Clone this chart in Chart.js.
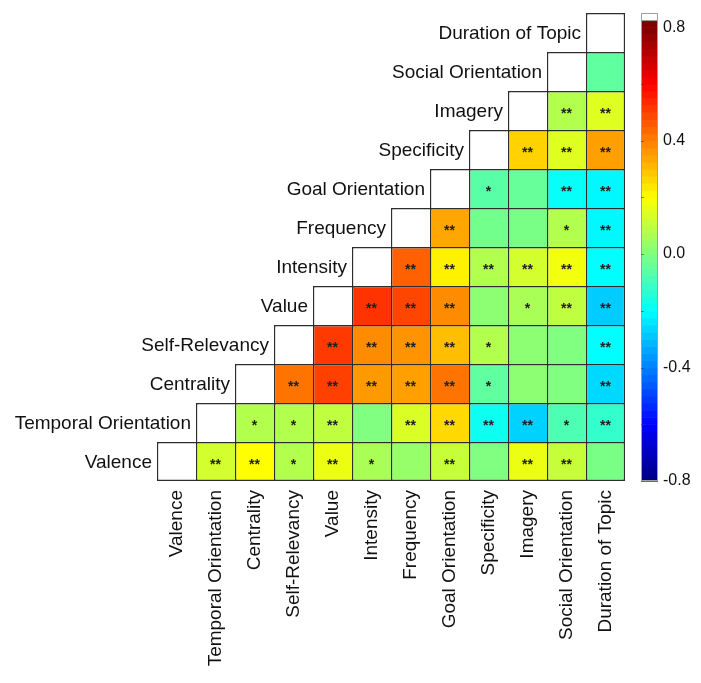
<!DOCTYPE html>
<html><head><meta charset="utf-8">
<script src="https://cdn.jsdelivr.net/npm/chart.js@4/dist/chart.umd.min.js"></script>
<style>html,body{margin:0;padding:0;background:#fff}canvas{display:block}</style>
</head><body>
<canvas id="c" width="701" height="683"></canvas>
<script>
// Variables (bottom row / left column first)
const variables = ['Valence','Temporal Orientation','Centrality','Self-Relevancy','Value','Intensity','Frequency','Goal Orientation','Specificity','Imagery','Social Orientation','Duration of Topic'];

// Correlations of each row variable with the variables to its right (columns row+1 .. 11)
const corrValence        = [0.13, 0.20, 0.08, 0.17, 0.065, 0.035, 0.11, 0.00, 0.17, 0.11, -0.01];
const corrTemporal       = [0.08, 0.08, 0.10, 0.00, 0.14, 0.26, -0.18, -0.27, -0.08, -0.12];
const corrCentrality     = [0.42, 0.50, 0.36, 0.35, 0.42, -0.05, 0.02, 0.00, -0.26];
const corrSelfRelevancy  = [0.51, 0.38, 0.37, 0.30, 0.08, 0.02, 0.00, -0.20];
const corrValue          = [0.52, 0.49, 0.38, 0.02, 0.065, 0.10, -0.28];
const corrIntensity      = [0.45, 0.22, 0.08, 0.13, 0.18, -0.20];
const corrFrequency      = [0.34, -0.02, -0.01, 0.08, -0.21];
const corrGoal           = [-0.06, -0.04, -0.19, -0.21];
const corrSpecificity    = [0.27, 0.15, 0.35];
const corrImagery        = [0.08, 0.15];
const corrSocial         = [-0.05];
const corrDuration       = [];

// Significance marks, same layout
const sigValence       = ['**','**','*','**','*','','**','','**','**',''];
const sigTemporal      = ['*','*','**','','**','**','**','**','*','**'];
const sigCentrality    = ['**','**','**','**','**','*','','','**'];
const sigSelfRelevancy = ['**','**','**','**','*','','','**'];
const sigValue         = ['**','**','**','','*','**','**'];
const sigIntensity     = ['**','**','**','**','**','**'];
const sigFrequency     = ['**','','','*','**'];
const sigGoal          = ['*','','**','**'];
const sigSpecificity   = ['**','**','**'];
const sigImagery       = ['**','**'];
const sigSocial        = [''];
const sigDuration      = [];

// Colour bar
const cbTicks = [-0.8, -0.4, 0.0, 0.4, 0.8];
const CB_MIN = -0.8, CB_MAX = 0.8;

const corrRows = [corrValence, corrTemporal, corrCentrality, corrSelfRelevancy, corrValue, corrIntensity, corrFrequency, corrGoal, corrSpecificity, corrImagery, corrSocial, corrDuration];
const sigRows = [sigValence, sigTemporal, sigCentrality, sigSelfRelevancy, sigValue, sigIntensity, sigFrequency, sigGoal, sigSpecificity, sigImagery, sigSocial, sigDuration];

function clamp01(x){ return Math.max(0, Math.min(1, x)); }
function jet(v){
  const t = clamp01((v - CB_MIN) / (CB_MAX - CB_MIN));
  const r = clamp01(1.5 - Math.abs(4*t - 3));
  const g = clamp01(1.5 - Math.abs(4*t - 2));
  const b = clamp01(1.5 - Math.abs(4*t - 1));
  return `rgb(${Math.round(r*255)},${Math.round(g*255)},${Math.round(b*255)})`;
}

const n = variables.length;
const BW = 1.4;
const datasets = corrRows.map((vals, r) => ({
  label: variables[r],
  data: variables.map((_, c) => c >= r ? [r, r + 1] : null),
  backgroundColor: variables.map((_, c) => c === r ? '#ffffff' : (c > r ? jet(vals[c - r - 1]) : 'rgba(0,0,0,0)')),
  borderColor: '#2e2e2e',
  borderWidth: variables.map((_, c) => ({left: BW, top: BW, right: c === n - 1 ? BW : 0, bottom: r === 0 ? BW : 0})),
  borderSkipped: false,
  inflateAmount: 0,
  grouped: false,
  barPercentage: 1,
  categoryPercentage: 1
}));

const FONT = '"Liberation Sans", Arial, Helvetica, sans-serif';

const overlay = {
  id: 'overlay',
  afterDatasetsDraw(chart) {
    const ctx = chart.ctx, xs = chart.scales.x, ys = chart.scales.y;
    const cw = xs.getPixelForValue(1) - xs.getPixelForValue(0);
    ctx.save();
    // row labels
    ctx.font = '19px ' + FONT;
    ctx.fillStyle = '#111';
    ctx.textAlign = 'right';
    ctx.textBaseline = 'middle';
    for (let r = 0; r < n; r++) {
      const x = xs.getPixelForValue(r) - cw / 2 - 5;
      const y = ys.getPixelForValue(r + 0.5);
      ctx.fillText(variables[r], x, y + 1);
    }
    // significance stars
    ctx.font = 'bold 14px ' + FONT;
    ctx.textAlign = 'center';
    ctx.textBaseline = 'alphabetic';
    ctx.fillStyle = '#222';
    for (let r = 0; r < n; r++) {
      sigRows[r].forEach((s, k) => {
        if (!s) return;
        const c = r + 1 + k;
        ctx.fillText(s, xs.getPixelForValue(c), ys.getPixelForValue(r + 0.5) + 7.5);
      });
    }
    // colour bar
    const s = chart.scales.y2;
    const x0 = s.left + 16, w = 17;
    const step = (CB_MAX - CB_MIN) / 64;
    const topColor = 0.825;
    for (let v = CB_MIN; v < topColor - 1e-9; v += step) {
      const v1 = Math.min(v + step, topColor);
      const yT = s.getPixelForValue(v1), yB = s.getPixelForValue(v);
      ctx.fillStyle = jet(v + step / 2);
      ctx.fillRect(x0, yT, w, yB - yT + 0.6);
    }
    const yWhiteTop = s.getPixelForValue(s.max), yWhiteBot = s.getPixelForValue(topColor);
    ctx.fillStyle = '#fff';
    ctx.fillRect(x0, yWhiteTop, w, yWhiteBot - yWhiteTop);
    ctx.strokeStyle = '#a0a0a0';
    ctx.lineWidth = 1;
    ctx.strokeRect(x0 + 0.5, yWhiteTop + 0.5, w - 1, s.getPixelForValue(CB_MIN) - yWhiteTop - 1);
    ctx.beginPath();
    ctx.moveTo(x0, yWhiteBot + 0.5); ctx.lineTo(x0 + w, yWhiteBot + 0.5);
    ctx.stroke();
    // small tick dashes every 0.2
    ctx.strokeStyle = 'rgba(60,60,60,0.6)';
    for (let k = -3; k <= 3; k++) {
      const y = Math.round(s.getPixelForValue(k * 0.2)) + 0.5;
      ctx.beginPath(); ctx.moveTo(x0, y); ctx.lineTo(x0 + 3, y); ctx.stroke();
    }
    ctx.restore();
  }
};

new Chart(document.getElementById('c'), {
  type: 'bar',
  data: { labels: variables, datasets },
  options: {
    responsive: false,
    devicePixelRatio: 1,
    animation: false,
    layout: { padding: { left: 157, top: 13, right: 0, bottom: 0 } },
    plugins: { legend: { display: false }, tooltip: { enabled: false } },
    scales: {
      x: {
        type: 'category',
        offset: true,
        grid: { display: false, drawTicks: false },
        border: { display: false },
        ticks: {
          autoSkip: false, maxRotation: 90, minRotation: 90, padding: 9,
          color: '#111', font: { family: FONT, size: 19 }
        },
        afterFit(scale) { scale.height = 202; scale.paddingLeft = 0; scale.paddingRight = 0; }
      },
      y: { type: 'linear', min: 0, max: n, display: false },
      y2: {
        type: 'linear', position: 'right', min: -0.8, max: 0.85,
        grid: { display: false, drawTicks: false, drawOnChartArea: false },
        border: { display: false },
        ticks: {
          padding: 38, color: '#111', font: { family: FONT, size: 16 },
          callback: v => v.toFixed(1)
        },
        afterBuildTicks(scale) { scale.ticks = cbTicks.map(v => ({ value: v })); },
        afterFit(scale) { scale.width = 76; scale.paddingTop = 0; scale.paddingBottom = 0; }
      }
    }
  },
  plugins: [overlay]
});
</script>
</body></html>
